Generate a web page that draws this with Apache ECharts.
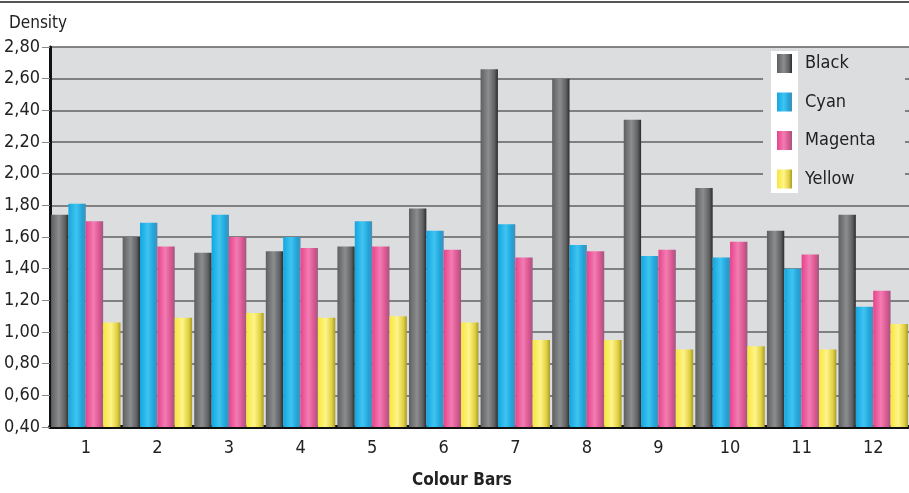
<!DOCTYPE html>
<html lang="en">
<head>
    <meta charset="UTF-8">
    <title>Density - Colour Bars</title>
    <script src="https://cdn.jsdelivr.net/npm/echarts@6/dist/echarts.min.js"></script>
    <style>
        html, body { margin: 0; padding: 0; background: #fff; }
        #main { width: 909px; height: 493px; }
    </style>
</head>
<body>
    <div id="main"></div>
    <script>
        // data
        var categories = ['1', '2', '3', '4', '5', '6', '7', '8', '9', '10', '11', '12'];
        var black   = [1.74, 1.60, 1.50, 1.51, 1.54, 1.78, 2.66, 2.60, 2.34, 1.91, 1.64, 1.74];
        var cyan    = [1.81, 1.69, 1.74, 1.60, 1.70, 1.64, 1.68, 1.55, 1.48, 1.47, 1.40, 1.16];
        var magenta = [1.70, 1.54, 1.60, 1.53, 1.54, 1.52, 1.47, 1.51, 1.52, 1.57, 1.49, 1.26];
        var yellow  = [1.06, 1.09, 1.12, 1.09, 1.10, 1.06, 0.95, 0.95, 0.89, 0.91, 0.89, 1.05];
        var yMin = 0.4, yMax = 2.8, yStep = 0.2;

        var font = "'Liberation Sans Narrow', 'DejaVu Sans Condensed', sans-serif";
        var plotBg = '#dcdddf';

        // cylinder-like shading of the bars
        function shade(c0, c1, c2, c3) {
            return new echarts.graphic.LinearGradient(0, 0, 1, 0, [
                { offset: 0, color: c0 },
                { offset: 0.45, color: c1 },
                { offset: 0.8, color: c2 },
                { offset: 1, color: c3 }
            ]);
        }

        function barSeries(name, data, color) {
            return {
                name: name,
                type: 'bar',
                data: data,
                barGap: '0%',
                barCategoryGap: '3%',
                itemStyle: { color: color }
            };
        }

        var myChart = echarts.init(document.getElementById('main'));

        var option = {
            animation: false,
            textStyle: { fontFamily: font },
            title: {
                text: 'Density',
                left: 4,
                top: 10,
                textStyle: { fontFamily: font, fontSize: 17, fontWeight: 'normal', color: '#222' }
            },
            grid: {
                left: 50,
                top: 47,
                bottom: 66,
                right: -11,
                show: true,
                backgroundColor: plotBg,
                borderWidth: 0
            },
            legend: {
                orient: 'vertical',
                left: 763,
                top: 50,
                z: 5,
                icon: 'rect',
                padding: [4, 10, 4, 14],
                itemWidth: 15,
                itemHeight: 19,
                itemGap: 19.5,
                textStyle: { fontFamily: font, fontSize: 18, color: '#222', padding: [0, 0, 0, 8] },
                data: ['Black', 'Cyan', 'Magenta', 'Yellow']
            },
            xAxis: {
                type: 'category',
                data: categories,
                axisLine: { lineStyle: { color: '#111', width: 4 } },
                axisTick: { length: 11, lineStyle: { color: '#777', width: 1 } },
                axisLabel: { fontFamily: font, fontSize: 18, color: '#222', margin: 12 }
            },
            yAxis: {
                type: 'value',
                min: yMin,
                max: yMax,
                interval: yStep,
                axisLine: { show: true, lineStyle: { color: '#111', width: 3 } },
                axisTick: { show: true, length: 8, lineStyle: { color: '#888' } },
                axisLabel: {
                    fontFamily: font, fontSize: 18, color: '#222', margin: 10,
                    formatter: function (v) { return v.toFixed(2).replace('.', ','); }
                },
                splitLine: { lineStyle: { color: '#606060', width: 1.5 } }
            },
            graphic: [
                // rule across the top of the page
                { type: 'line', shape: { x1: 0, y1: 2, x2: 909, y2: 2 }, style: { stroke: '#555', lineWidth: 2 } },
                // legend backing that hides the grid lines, with the white strip behind the keys
                { type: 'rect', z: 3, shape: { x: 763, y: 48, width: 142, height: 147 }, style: { fill: plotBg } },
                { type: 'rect', z: 3, shape: { x: 771, y: 51, width: 27, height: 142 }, style: { fill: '#fff' } },
                {
                    type: 'text', left: 412, top: 472,
                    style: { text: 'Colour Bars', font: 'bold 17px ' + font, fill: '#222' }
                }
            ],
            series: [
                barSeries('Black', black, shade('#5e5f61', '#8c8d8f', '#606163', '#2c2c2d')),
                barSeries('Cyan', cyan, shade('#12a6e0', '#3fc4f2', '#20a3d8', '#4f8cb0')),
                barSeries('Magenta', magenta, shade('#e8428c', '#f37cb2', '#d7558f', '#9a5a7e')),
                barSeries('Yellow', yellow, shade('#f6e73a', '#fff48a', '#e0d040', '#a89b2a'))
            ]
        };

        myChart.setOption(option);
    </script>
</body>
</html>
